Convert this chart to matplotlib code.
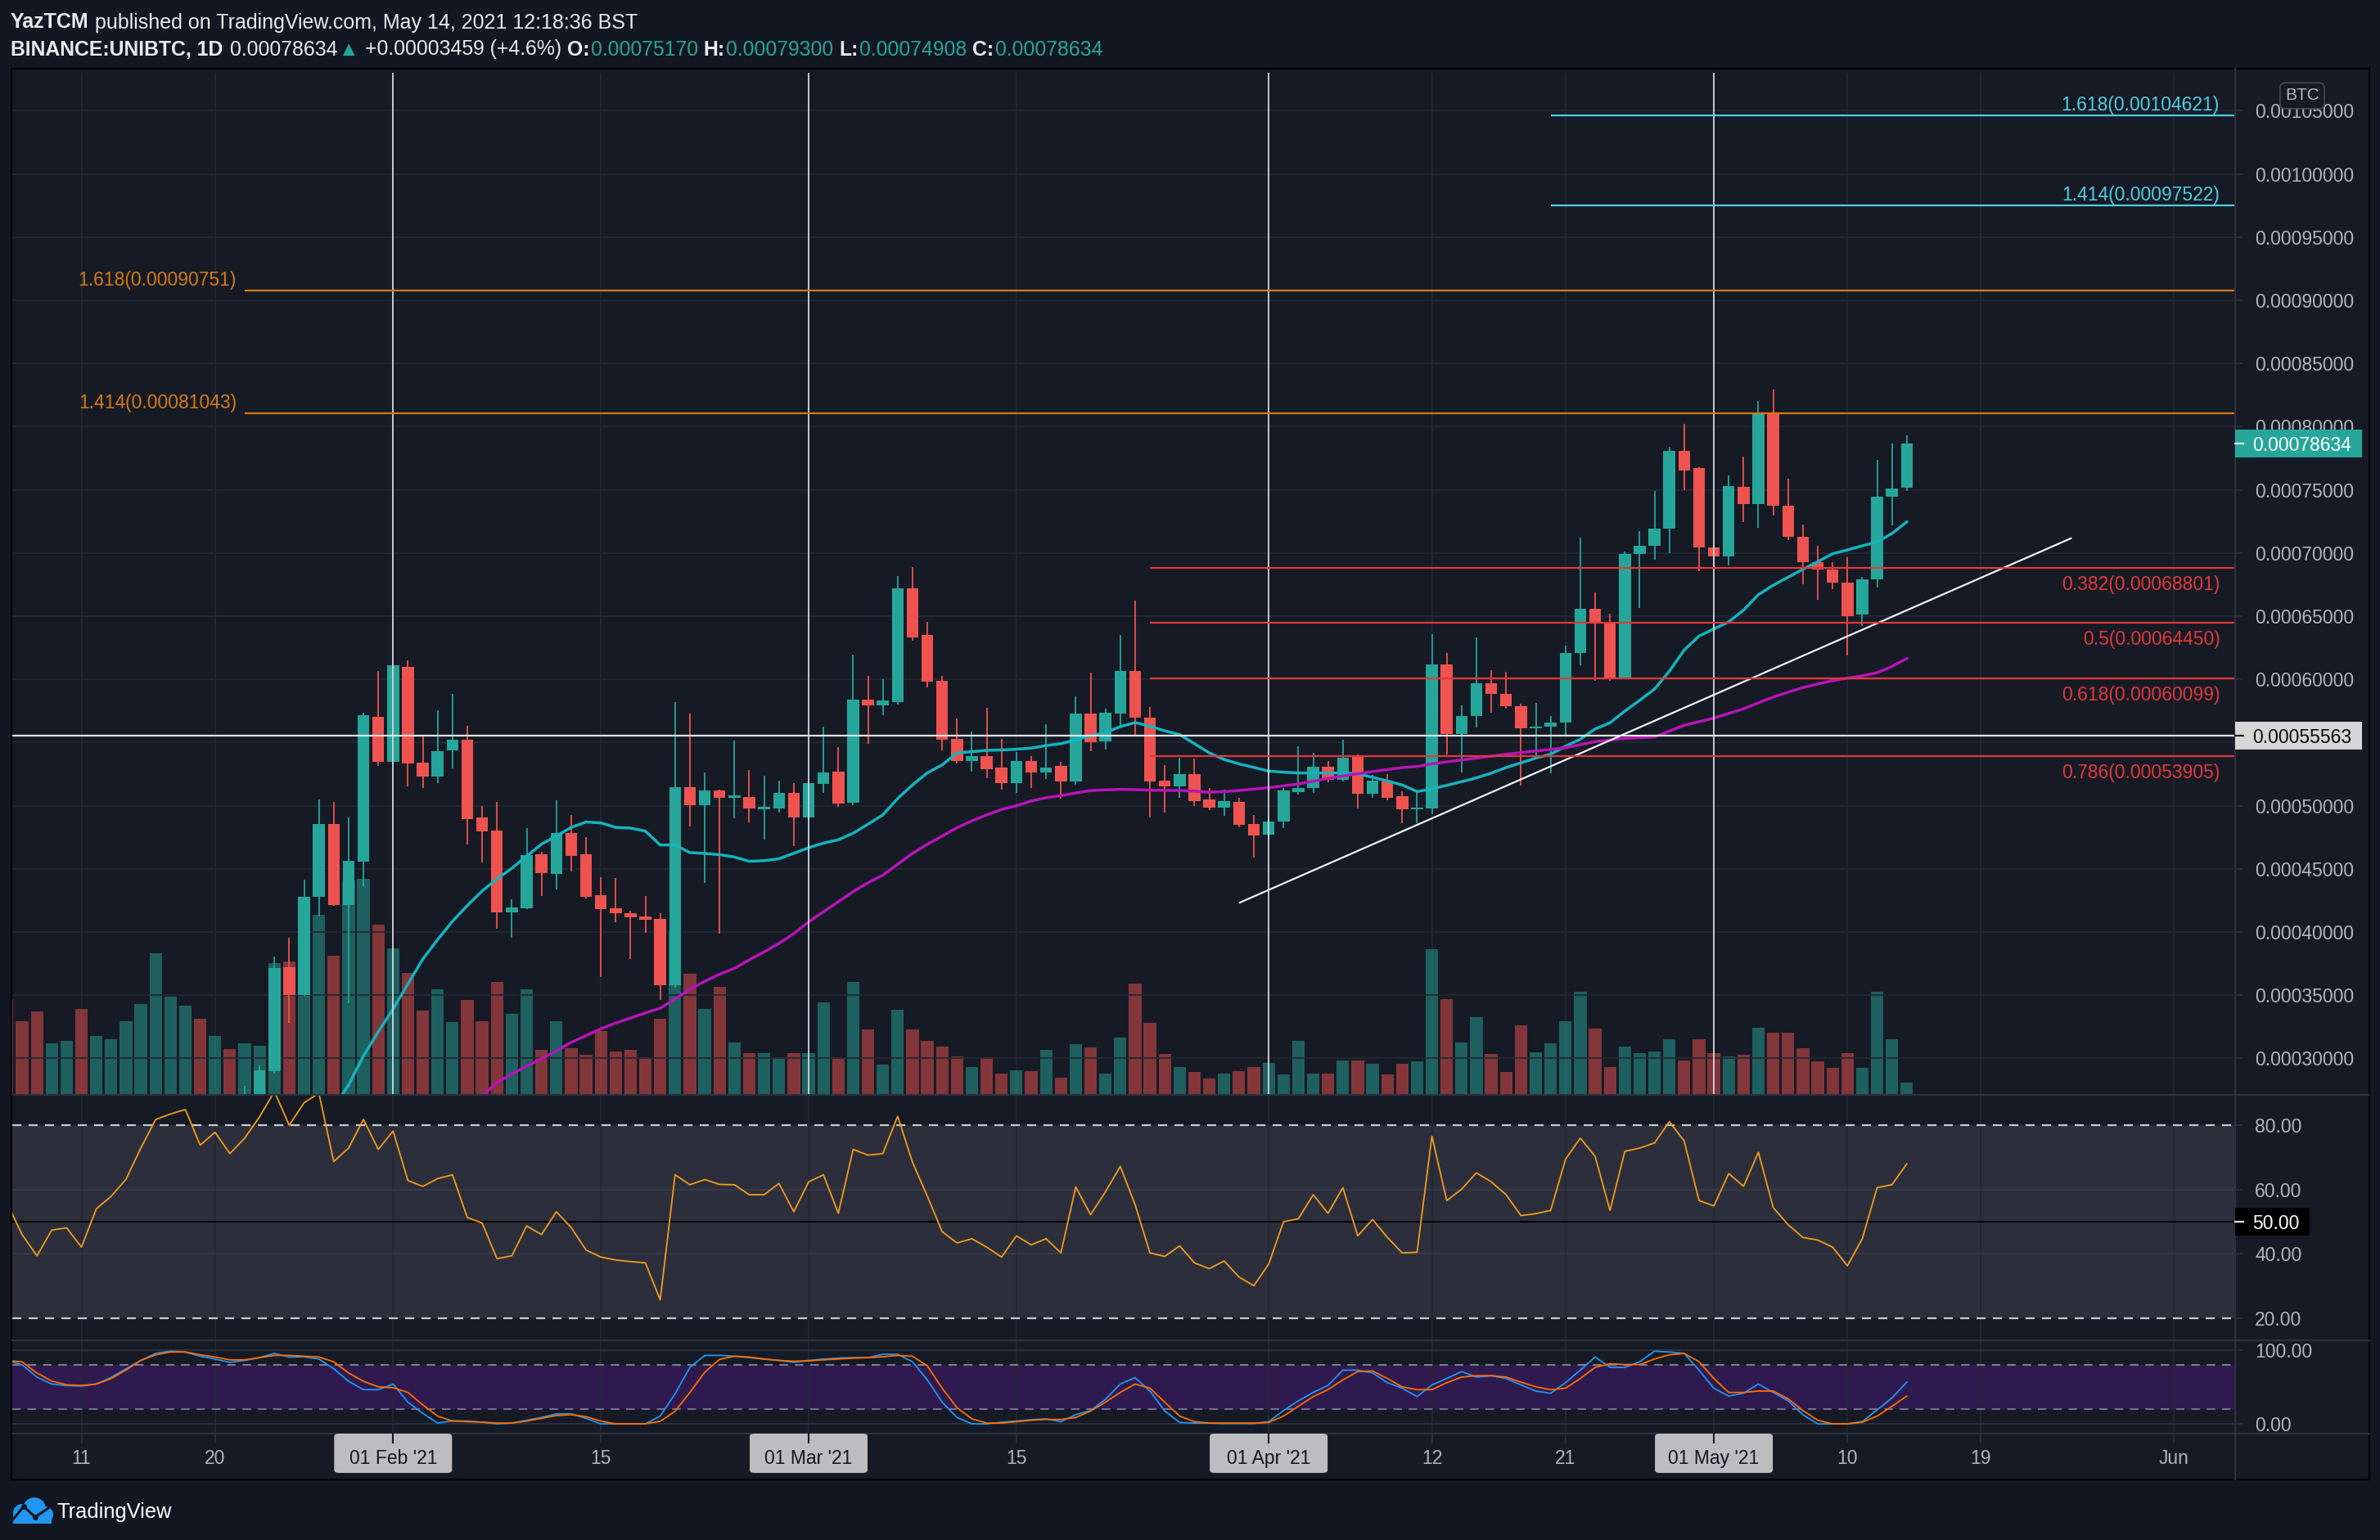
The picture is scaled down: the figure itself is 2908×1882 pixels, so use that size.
import matplotlib.pyplot as plt
import matplotlib as mpl
from matplotlib.patches import Rectangle, FancyBboxPatch, Circle
from matplotlib.lines import Line2D

mpl.rcParams['font.family'] = ['Liberation Sans', 'DejaVu Sans']

# ---- values (UNIBTC, 1D). x = day of year, 0 = 1 Jan 2021 ----
vol_start = 5
volume = [116.5, 88.8, 100.6, 62.5, 64.7, 103.6, 70.7, 66.6, 89.5, 109.9,
          171.6, 118.7, 107.6, 91.7, 70.7, 54.7, 62.5, 58.8, 159.8, 161.6,
          233.8, 219.0, 168.7, 260.8, 262.6, 206.8, 177.6, 147.6, 101.7, 127.6,
          87.7, 114.7, 89.5, 136.9, 97.7, 127.6, 53.6, 88.8, 56.2, 47.7,
          76.6, 51.8, 53.6, 44.8, 91.7, 200.0, 147.0, 104.5, 130.7, 63.5,
          49.6, 49.6, 44.6, 49.6, 50.4, 111.6, 45.5, 137.5, 78.6, 35.7,
          102.7, 78.6, 64.7, 57.6, 46.4, 32.6, 44.6, 25.4, 29.5, 27.7,
          53.6, 20.5, 60.7, 56.7, 25.4, 68.7, 134.8, 87.5, 48.7, 32.6,
          26.8, 18.7, 24.6, 27.7, 33.5, 38.4, 23.7, 64.7, 24.6, 25.4,
          40.6, 40.6, 37.5, 23.7, 37.5, 40.0, 176.8, 116.0, 62.6, 93.6,
          48.8, 27.0, 83.8, 51.1, 62.0, 89.0, 124.6, 79.8, 32.7, 58.5,
          49.9, 51.7, 67.2, 40.8, 67.2, 49.9, 45.9, 47.6, 80.9, 74.6,
          74.6, 56.3, 39.6, 31.6, 49.9, 31.6, 124.6, 67.2, 14.4]
# direction of the volume bars whose candles sit below the visible range (days 5..20)
early_vol_up = [False, False, False, True, True, False, True, True,
                True, True, True, True, True, False, True, False]

candle_start = 21
opens = [0.000255, 0.000266, 0.0002900, 0.0003719, 0.0003499, 0.0004277, 0.0004852, 0.0004217, 0.0004560, 0.0005702,
         0.0005350, 0.0006097, 0.0005341, 0.0005233, 0.0005439, 0.0005523, 0.0004907, 0.0004804, 0.0004157, 0.0004191,
         0.0004615, 0.0004462, 0.0004785, 0.0004615, 0.0004291, 0.0004188, 0.0004150, 0.0004124, 0.0004105, 0.0003582,
         0.0005147, 0.0005005, 0.0005120, 0.0005065, 0.0005068, 0.0004970, 0.0004979, 0.0005100, 0.0004906, 0.0005172,
         0.0005270, 0.0005025, 0.0005840, 0.0005791, 0.0005820, 0.0006719, 0.0006352, 0.0005988, 0.0005528, 0.0005352,
         0.0005392, 0.0005302, 0.0005178, 0.0005354, 0.0005265, 0.0005314, 0.0005193, 0.0005730, 0.0005511, 0.0005730,
         0.0006066, 0.0005699, 0.0005198, 0.0005152, 0.0005250, 0.0005051, 0.0004985, 0.0005031, 0.0004855, 0.0004771,
         0.0004875, 0.0005109, 0.0005140, 0.0005308, 0.0005204, 0.0005386, 0.0005094, 0.0005193, 0.0005074, 0.0004970,
         0.0004976, 0.0006120, 0.0005570, 0.0005711, 0.0005968, 0.0005886, 0.0005786, 0.0005610, 0.0005626, 0.0005656,
         0.0006206, 0.0006559, 0.0006444, 0.0006016, 0.0006994, 0.0007057, 0.0007195, 0.0007808, 0.0007670, 0.0007042,
         0.0006975, 0.0007522, 0.0007388, 0.0008101, 0.0007377, 0.0007131, 0.0006927, 0.0006871, 0.0006763, 0.0006511,
         0.0006789, 0.0007444, 0.00075170]
highs = [0.000278, 0.0002943, 0.0003805, 0.0003954, 0.0004414, 0.0005048, 0.0005029, 0.0004907, 0.0005738, 0.0006066,
         0.0006120, 0.0006150, 0.0005551, 0.0005755, 0.0005884, 0.0005635, 0.0004996, 0.0005029, 0.0004260, 0.0004821,
         0.0004636, 0.0005041, 0.0004924, 0.0004749, 0.0004433, 0.0004425, 0.0004169, 0.0004284, 0.0004152, 0.0005820,
         0.0005729, 0.0005264, 0.0005127, 0.0005516, 0.0005282, 0.0005236, 0.0005201, 0.0005178, 0.0005200, 0.0005626,
         0.0005464, 0.0006196, 0.0006028, 0.0006002, 0.0006817, 0.0006889, 0.0006456, 0.0006028, 0.0005690, 0.0005586,
         0.0005774, 0.0005528, 0.0005424, 0.0005392, 0.0005644, 0.0005346, 0.0005866, 0.0006054, 0.0005765, 0.0006352,
         0.0006624, 0.0005779, 0.0005323, 0.0005380, 0.0005375, 0.0005138, 0.0005126, 0.0005063, 0.0004927, 0.0004900,
         0.0005143, 0.0005470, 0.0005418, 0.0005354, 0.0005525, 0.0005407, 0.0005242, 0.0005253, 0.0005115, 0.0005115,
         0.0006355, 0.0006206, 0.0005793, 0.0006332, 0.0006072, 0.0006061, 0.0005808, 0.0005812, 0.0005712, 0.0006269,
         0.0007124, 0.0006689, 0.0006518, 0.0007012, 0.0007172, 0.0007488, 0.0007841, 0.0008023, 0.0007680, 0.0007050,
         0.0007615, 0.0007763, 0.0008202, 0.0008295, 0.0007589, 0.0007224, 0.0007057, 0.0006927, 0.0006964, 0.0006808,
         0.0007737, 0.0007867, 0.00079300]
lows = [0.000250, 0.000262, 0.0002883, 0.0003283, 0.0003487, 0.0004126, 0.0004205, 0.0003439, 0.0004366, 0.0005312,
        0.0005330, 0.0005156, 0.0005142, 0.0005180, 0.0005295, 0.0004696, 0.0004548, 0.0004026, 0.0003958, 0.0004180,
        0.0004284, 0.0004339, 0.0004481, 0.0004265, 0.0003642, 0.0004078, 0.0003786, 0.0003997, 0.0003463, 0.0003558,
        0.0004833, 0.0004390, 0.0003990, 0.0004898, 0.0004869, 0.0004730, 0.0004947, 0.0004681, 0.0004880, 0.0005100,
        0.0004993, 0.0005005, 0.0005490, 0.0005716, 0.0005803, 0.0006308, 0.0005938, 0.0005438, 0.0005337, 0.0005270,
        0.0005216, 0.0005129, 0.0005103, 0.0005143, 0.0005213, 0.0005057, 0.0005164, 0.0005433, 0.0005444, 0.0005626,
        0.0005563, 0.0004909, 0.0004947, 0.0005065, 0.0004999, 0.0004964, 0.0004921, 0.0004826, 0.0004591, 0.0004740,
        0.0004820, 0.0005091, 0.0005100, 0.0005184, 0.0005193, 0.0004976, 0.0005063, 0.0005042, 0.0004863, 0.0004860,
        0.0004931, 0.0005407, 0.0005265, 0.0005619, 0.0005738, 0.0005767, 0.0005161, 0.0005396, 0.0005258, 0.0005563,
        0.0006113, 0.0005990, 0.0005990, 0.0006000, 0.0006566, 0.0006949, 0.0007001, 0.0007496, 0.0006853, 0.0006870,
        0.0006901, 0.0007243, 0.0007198, 0.0007299, 0.0007105, 0.0006752, 0.0006630, 0.0006715, 0.0006187, 0.0006425,
        0.0006726, 0.0007217, 0.00074908]
closes = [0.000266, 0.0002907, 0.0003714, 0.0003499, 0.0004277, 0.0004852, 0.0004217, 0.0004564, 0.0005714, 0.0005350,
          0.0006109, 0.0005336, 0.0005233, 0.0005432, 0.0005523, 0.0004897, 0.0004799, 0.0004157, 0.0004196, 0.0004610,
          0.0004469, 0.0004785, 0.0004605, 0.0004277, 0.0004184, 0.0004152, 0.0004119, 0.0004100, 0.0003582, 0.0005147,
          0.0005005, 0.0005120, 0.0005065, 0.0005077, 0.0004979, 0.0004988, 0.0005100, 0.0004906, 0.0005178, 0.0005262,
          0.0005016, 0.0005840, 0.0005791, 0.0005834, 0.0006719, 0.0006332, 0.0005979, 0.0005519, 0.0005354, 0.0005392,
          0.0005291, 0.0005178, 0.0005354, 0.0005265, 0.0005302, 0.0005193, 0.0005730, 0.0005505, 0.0005736, 0.0006066,
          0.0005699, 0.0005193, 0.0005152, 0.0005250, 0.0005037, 0.0004985, 0.0005034, 0.0004849, 0.0004762, 0.0004875,
          0.0005120, 0.0005140, 0.0005308, 0.0005204, 0.0005381, 0.0005094, 0.0005196, 0.0005065, 0.0004973, 0.0004975,
          0.0006120, 0.0005570, 0.0005711, 0.0005968, 0.0005882, 0.0005786, 0.0005611, 0.0005626, 0.0005656, 0.0006206,
          0.0006559, 0.0006444, 0.0006016, 0.0006994, 0.0007057, 0.0007195, 0.0007808, 0.0007655, 0.0007042, 0.0006975,
          0.0007530, 0.0007388, 0.0008101, 0.0007373, 0.0007131, 0.0006927, 0.0006871, 0.0006763, 0.0006503, 0.0006789,
          0.0007444, 0.0007511, 0.00078634]

ema_start = 27
ema20 = [0.000261, 0.000279, 0.000302, 0.000321, 0.0003391, 0.000359, 0.0003786, 0.000394, 0.0004085, 0.000421,
         0.0004325, 0.000442, 0.0004505, 0.000460, 0.0004696, 0.000476, 0.0004828, 0.0004871, 0.0004864, 0.0004828,
         0.0004823, 0.0004799, 0.0004689, 0.0004689, 0.0004629, 0.0004622, 0.0004612, 0.0004594, 0.000456, 0.0004565,
         0.000458, 0.0004623, 0.0004667, 0.0004704, 0.000473, 0.0004782, 0.0004854, 0.0004927, 0.0005057, 0.0005164,
         0.000526, 0.0005323, 0.0005418, 0.0005427, 0.0005438, 0.0005441, 0.0005447, 0.0005456, 0.0005476, 0.0005491,
         0.000552, 0.0005554, 0.0005577, 0.0005626, 0.0005658, 0.0005629, 0.0005592, 0.0005563, 0.0005491, 0.0005418,
         0.0005366, 0.0005331, 0.0005303, 0.0005274, 0.0005265, 0.0005259, 0.0005259, 0.0005259, 0.0005259, 0.0005253,
         0.0005224, 0.0005196, 0.0005164, 0.0005112, 0.0005133, 0.0005161, 0.000519, 0.000522, 0.0005258, 0.0005302,
         0.0005339, 0.0005377, 0.0005407, 0.000547, 0.0005526, 0.0005607, 0.0005656, 0.0005749, 0.0005834, 0.0005923,
         0.0006064, 0.0006232, 0.0006343, 0.0006399, 0.0006455, 0.0006548, 0.000667, 0.0006745, 0.0006808, 0.0006871,
         0.0006931, 0.0006994, 0.0007024, 0.0007057, 0.0007087, 0.0007154, 0.0007247]
ma_start = 37
ma50 = [0.000270, 0.000281, 0.0002876, 0.000294, 0.0002996, 0.000306, 0.0003127, 0.000318, 0.0003235, 0.000328,
        0.0003319, 0.000336, 0.0003398, 0.000347, 0.0003549, 0.000361, 0.0003666, 0.0003713, 0.000378, 0.0003843,
        0.000391, 0.0003987, 0.000408, 0.0004161, 0.000424, 0.000432, 0.000439, 0.000445, 0.0004537, 0.0004623,
        0.0004695, 0.000476, 0.0004826, 0.000488, 0.0004927, 0.000497, 0.0005, 0.0005037, 0.0005063, 0.000508,
        0.00051, 0.000512, 0.0005125, 0.0005129, 0.0005127, 0.0005123, 0.0005121, 0.000512, 0.0005115, 0.0005106,
        0.0005112, 0.000512, 0.0005131, 0.0005143, 0.0005157, 0.0005172, 0.0005194, 0.0005216, 0.0005235, 0.0005253,
        0.000527, 0.0005286, 0.0005302, 0.000531, 0.0005331, 0.0005347, 0.0005362, 0.0005377, 0.0005392, 0.0005407,
        0.000542, 0.0005433, 0.0005446, 0.0005459, 0.0005483, 0.0005507, 0.000552, 0.0005533, 0.0005539, 0.0005544,
        0.000559, 0.0005637, 0.0005665, 0.0005693, 0.000573, 0.0005767, 0.0005814, 0.000586, 0.0005898, 0.0005935,
        0.0005963, 0.000599, 0.0006009, 0.0006028, 0.0006053, 0.0006102, 0.0006165]

osc_start = 5
rsi = [55.7, 46.0, 39.4, 47.4, 48.1, 42.1, 54.0, 57.9, 63.2, 72.9,
       81.8, 83.5, 84.9, 73.8, 77.8, 71.2, 76.0, 82.6, 90.5, 80.0,
       87.0, 90.0, 68.7, 72.9, 81.8, 72.5, 78.2, 62.8, 61.0, 63.4,
       64.6, 51.3, 49.6, 38.5, 39.4, 48.7, 46.0, 53.1, 48.2, 41.2,
       39.0, 38.1, 37.6, 37.2, 25.7, 64.6, 61.5, 63.1, 61.6, 61.5,
       58.4, 58.4, 61.9, 53.1, 62.4, 64.6, 52.6, 72.5, 70.7, 71.2,
       82.8, 68.5, 57.9, 46.9, 43.4, 44.7, 42.1, 39.0, 45.6, 42.8,
       44.7, 40.3, 60.8, 52.2, 59.3, 67.2, 55.3, 40.3, 39.2, 42.5,
       37.2, 35.4, 37.8, 32.8, 30.1, 36.8, 50.0, 50.9, 58.4, 52.6,
       60.6, 45.6, 50.7, 45.1, 40.3, 40.5, 76.6, 56.6, 60.1, 65.2,
       62.4, 58.4, 51.9, 52.5, 53.5, 69.4, 76.0, 70.3, 53.5, 71.9,
       72.9, 74.5, 81.1, 75.1, 56.6, 54.9, 65.0, 61.0, 71.6, 54.4,
       49.1, 45.1, 44.3, 42.1, 36.3, 44.7, 60.6, 61.5, 68.0]
stoch_k = [86.0, 80.0, 63.4, 54.0, 52.0, 51.3, 54.0, 63.0, 74.7, 86.0,
           95.5, 98.5, 97.4, 91.7, 87.9, 83.4, 86.0, 89.8, 95.5, 90.6,
           90.9, 87.9, 74.7, 57.7, 46.4, 46.4, 54.0, 29.4, 14.3, 1.1,
           4.2, 3.8, 2.3, 0.0, 1.1, 4.9, 8.7, 13.6, 13.6, 7.5,
           0.0, 0.0, 0.0, 0.0, 10.6, 40.8, 76.6, 92.8, 92.8, 91.7,
           89.8, 87.9, 86.0, 83.4, 86.0, 87.9, 89.1, 89.8, 89.8, 94.3,
           94.3, 84.2, 59.6, 29.4, 8.7, 0.0, 0.0, 2.3, 3.8, 5.7,
           6.8, 3.0, 12.5, 18.1, 33.2, 54.0, 62.6, 44.5, 17.4, 1.9,
           1.1, 1.1, 0.4, 0.4, 0.4, 3.0, 18.1, 31.3, 42.6, 52.1,
           72.8, 72.8, 69.1, 55.8, 48.3, 37.0, 52.8, 61.5, 70.9, 63.4,
           65.3, 61.5, 52.8, 44.5, 41.5, 55.8, 72.8, 90.6, 76.6, 76.6,
           84.2, 98.5, 97.4, 95.5, 72.8, 48.3, 37.7, 41.5, 54.0, 42.6,
           31.3, 12.5, 0.0, 0.0, 0.0, 3.0, 18.9, 35.1, 56.6]
stoch_d = [86.0, 84.0, 69.0, 58.0, 53.0, 52.0, 54.0, 61.5, 73.0, 86.0,
           93.6, 97.4, 97.4, 93.6, 90.6, 86.8, 86.8, 89.8, 92.8, 92.8,
           91.7, 90.6, 84.2, 69.0, 57.7, 50.2, 49.0, 42.6, 25.7, 10.6,
           3.8, 3.0, 2.3, 1.1, 1.1, 3.8, 7.5, 11.3, 12.5, 9.8,
           3.8, 0.0, 0.0, 0.0, 3.6, 17.0, 42.7, 70.0, 87.4, 91.7,
           90.6, 87.9, 86.0, 84.9, 85.3, 86.8, 87.9, 89.1, 89.8, 90.9,
           92.8, 91.7, 78.5, 48.3, 21.9, 6.8, 1.1, 1.1, 3.0, 4.9,
           6.0, 6.0, 8.7, 17.4, 29.4, 42.6, 54.0, 48.3, 29.4, 10.6,
           3.0, 1.1, 1.1, 1.1, 1.1, 2.0, 10.6, 23.8, 37.0, 46.4,
           59.6, 70.9, 71.7, 61.5, 50.2, 46.4, 46.4, 55.8, 63.4, 65.3,
           65.3, 63.4, 56.6, 50.2, 46.4, 48.3, 61.5, 76.6, 81.5, 80.4,
           80.4, 87.9, 93.6, 95.5, 84.2, 61.5, 42.6, 42.6, 44.5, 44.5,
           34.0, 18.1, 4.9, 0.0, 0.0, 2.3, 10.6, 23.8, 37.7]

fib_orange = [1.618, 1.414]
fib_orange_price = [0.00090751, 0.00081043]
fib_orange_from = 21
fib_cyan = [1.618, 1.414]
fib_cyan_price = [0.00104621, 0.00097522]
fib_cyan_from = 109
fib_red = [0.382, 0.5, 0.618, 0.786]
fib_red_price = [0.00068801, 0.00064450, 0.00060099, 0.00053905]
fib_red_from = 82
hline_price = 0.00055563
trend_x = [88.05, 144.06]
trend_y = [0.0004233, 0.0007116]
month_lines = [31, 59, 90, 120]
tick_days = [10, 19, 31, 45, 59, 73, 90, 101, 110, 120, 129, 138, 151]
tick_labels = ['11', '20', "01 Feb '21", '15', "01 Mar '21", '15', "01 Apr '21",
               '12', '21', "01 May '21", '10', '19', 'Jun']
price_ticks = [0.0003 + 0.00005 * i for i in range(16)]
last_price = 0.00078634

assert len(volume) == 129 and len(rsi) == 129 and len(stoch_k) == 129 and len(stoch_d) == 129
assert len(opens) == len(highs) == len(lows) == len(closes) == 113
assert len(ema20) == 107 and len(ma50) == 97

# ---- layout ----
W, H, DPI = 2908, 1882, 100
BG = '#131722'
PANE = '#161a25'
GRID = '#242833'
SEP = '#2e323d'
TXT = '#b2b5be'
UP = '#26a69a'
DOWN = '#ef5350'
ORANGE = '#d67a12'
CYAN = '#4fcfe0'
RED = '#e2383a'
X0, X1 = 5.338, 155.07
FS = 16.5


def fx(x):
    return x / W


def fy(y):
    return 1 - y / H


fig = plt.figure(figsize=(W / DPI, H / DPI), dpi=DPI, facecolor=BG)
fig.add_artist(Rectangle((fx(14), fy(1808)), fx(2895) - fx(14), fy(84) - fy(1808),
                         transform=fig.transFigure, facecolor=PANE, edgecolor='#000000',
                         lw=1.5, zorder=-5))


def pane(top, bot, **kw):
    a = fig.add_axes([fx(15), fy(bot), fx(2730) - fx(15), fy(top) - fy(bot)], **kw)
    a.set_facecolor('none')
    for s in a.spines.values():
        s.set_visible(False)
    a.tick_params(axis='x', bottom=False, labelbottom=False)
    a.tick_params(axis='y', direction='out', length=7, width=1.2, color=SEP, pad=11,
                  labelsize=FS, labelcolor=TXT)
    return a


ax_vol = pane(89, 1337)
ax = pane(89, 1337, sharex=ax_vol)
ax_rsi = pane(1339, 1637, sharex=ax_vol)
ax_st = pane(1639, 1752, sharex=ax_vol)
ax_vol.set_xlim(X0, X1)

for a in (ax_vol, ax_rsi, ax_st):
    for d in tick_days:
        a.axvline(d, color=GRID, lw=1.3, zorder=0.5)

# volume
vol_days = list(range(vol_start, vol_start + len(volume)))
vol_up = early_vol_up + [c >= o for o, c in zip(opens, closes)]
ax_vol.bar(vol_days, volume, width=0.84, color=[UP if u else DOWN for u in vol_up],
           alpha=0.5, lw=0, zorder=1)
ax_vol.set_ylim(0, 1248)
ax_vol.set_yticks([])

# price axis; the 0.00055 label sits under the horizontal-line tag, so it is left blank
ax.set_ylim(0.0002718, 0.00108)
ax.yaxis.tick_right()
ax.set_yticks(price_ticks)
ax.set_yticklabels(['' if abs(v - 0.00055) < 1e-9 else f'{v:.8f}' for v in price_ticks])
for v in price_ticks:
    ax.axhline(v, color=GRID, lw=1.3, zorder=0.5)

cdays = list(range(candle_start, candle_start + len(opens)))
ccol = [UP if c >= o else DOWN for o, c in zip(opens, closes)]
ax.vlines(cdays, lows, highs, colors=ccol, lw=1.3, zorder=3)
ax.bar(cdays, [max(abs(c - o), 1.4e-6) for o, c in zip(opens, closes)],
       bottom=[min(o, c) for o, c in zip(opens, closes)],
       width=0.8, color=ccol, lw=0, zorder=3)

ax.plot(range(ema_start, ema_start + len(ema20)), ema20, color='#14b3bd', lw=2.5, zorder=4)
ax.plot(range(ma_start, ma_start + len(ma50)), ma50, color='#b714b7', lw=2.5, zorder=4)

# drawings
for d in month_lines:
    ax.axvline(d, color='#d4d6dc', lw=1.3, zorder=6)
ax.axhline(hline_price, color='#e4e4e4', lw=1.6, zorder=6)
ax.plot(trend_x, trend_y, color='#f2f2f2', lw=1.6, zorder=6)

for lvl, p in zip(fib_orange, fib_orange_price):
    ax.hlines(p, fib_orange_from, X1, color=ORANGE, lw=1.6, zorder=6)
    ax.annotate(f'{lvl:g}({p:.8f})', xy=(fib_orange_from, p), xytext=(-10, 1),
                textcoords='offset pixels', ha='right', va='bottom', color=ORANGE,
                fontsize=FS, zorder=7)
for lvl, p in zip(fib_cyan, fib_cyan_price):
    ax.hlines(p, fib_cyan_from, X1, color=CYAN, lw=1.6, zorder=6)
    ax.annotate(f'{lvl:g}({p:.8f})', xy=(1, p), xycoords=('axes fraction', 'data'),
                xytext=(-18, 1), textcoords='offset pixels', ha='right', va='bottom',
                color=CYAN, fontsize=FS, zorder=7)
for lvl, p in zip(fib_red, fib_red_price):
    ax.hlines(p, fib_red_from, X1, color=RED, lw=1.6, zorder=6)
    ax.annotate(f'{lvl:g}({p:.8f})', xy=(1, p), xycoords=('axes fraction', 'data'),
                xytext=(-17, -9), textcoords='offset pixels', ha='right', va='top',
                color=RED, fontsize=FS, zorder=7)

# RSI
osc_days = list(range(osc_start, osc_start + len(rsi)))
ax_rsi.set_ylim(13.36, 89.2)
ax_rsi.axhspan(20, 80, color='#2c2f3b', lw=0, zorder=0)
for v in (40, 60):
    ax_rsi.axhline(v, color='#3a3e4a', lw=1.2, zorder=0.6)
for v in (20, 80):
    ax_rsi.axhline(v, color='#c9c9c9', lw=1.6, ls=(0, (5, 4)), zorder=1)
ax_rsi.axhline(50, color='#050505', lw=1.6, zorder=1)
ax_rsi.plot(osc_days, rsi, color='#f29b1d', lw=1.3, zorder=3)
ax_rsi.yaxis.tick_right()
ax_rsi.set_yticks([20, 40, 60, 80])
ax_rsi.set_yticklabels(['20.00', '40.00', '60.00', '80.00'])

# Stoch RSI
ax_st.set_ylim(-13.2, 112.1)
ax_st.axhspan(20, 80, color='#2f1a4f', lw=0, zorder=0)
for v in (0, 100):
    ax_st.axhline(v, color='#2f333e', lw=1.3, zorder=0.6)
ax_st.axhline(80, color='#7c7f8a', lw=1.5, ls=(0, (5, 4)), zorder=1)
ax_st.axhline(20, color='#7a6897', lw=1.5, ls=(0, (5, 4)), zorder=1)
ax_st.plot(osc_days, stoch_k, color='#2196f3', lw=1.3, zorder=3)
ax_st.plot(osc_days, stoch_d, color='#ff6d00', lw=1.3, zorder=4)
ax_st.yaxis.tick_right()
ax_st.set_yticks([0, 100])
ax_st.set_yticklabels(['0.00', '100.00'])

# separators
for y in (1338, 1638, 1752):
    fig.add_artist(Line2D([fx(15), fx(2895)], [fy(y), fy(y)], transform=fig.transFigure,
                          color=SEP, lw=1.5, zorder=8))
fig.add_artist(Line2D([fx(2731), fx(2731)], [fy(84), fy(1808)], transform=fig.transFigure,
                      color=SEP, lw=1.5, zorder=8))


def axis_tag(a, val, text, fc, tc, x1=2886, h=34):
    yd = a.transData.transform((X0, val))[1] / H
    fig.add_artist(Rectangle((fx(2731), yd - h / 2 / H), (x1 - 2731) / W, h / H,
                             transform=fig.transFigure, facecolor=fc, edgecolor='none', zorder=10))
    fig.add_artist(Line2D([fx(2731), fx(2741)], [yd, yd], transform=fig.transFigure,
                          color=tc, lw=1.5, zorder=11))
    fig.text(fx(2752), yd, text, color=tc, fontsize=FS, va='center_baseline', ha='left', zorder=11)


axis_tag(ax, last_price, f'{last_price:.8f}', UP, '#ffffff')
axis_tag(ax, hline_price, f'{hline_price:.8f}', '#d6d6d6', '#0a0a0a')
axis_tag(ax_rsi, 50, '50.00', '#000000', '#ffffff', x1=2822)

fig.text(fx(2813), fy(117), 'BTC', ha='center', va='center', fontsize=15, color=TXT, zorder=12,
         bbox=dict(boxstyle='round,pad=0.3', fc=PANE, ec='#434651', lw=1.2))

# time axis
for d, lab in zip(tick_days, tick_labels):
    xd = ax_st.transData.transform((d, 0))[0] / W
    if d in month_lines:
        fig.add_artist(FancyBboxPatch((xd - 72 / W, fy(1800)), 144 / W, 48 / H,
                                      boxstyle='round,pad=0,rounding_size=0.002',
                                      transform=fig.transFigure, fc='#bdbdbf', ec='none', zorder=9))
        fig.add_artist(Line2D([xd, xd], [fy(1752), fy(1763)], transform=fig.transFigure,
                              color='#131722', lw=1.5, zorder=10))
        fig.text(xd, fy(1780), lab, color='#131722', ha='center', va='center_baseline',
                 fontsize=FS, zorder=10)
    else:
        fig.add_artist(Line2D([xd, xd], [fy(1752), fy(1763)], transform=fig.transFigure,
                              color=SEP, lw=1.3, zorder=9))
        fig.text(xd, fy(1780), lab, color=TXT, ha='center', va='center_baseline', fontsize=FS)

# header
renderer = fig.canvas.get_renderer()


def text_run(x, y, pieces, size=18):
    sp = 0.28 * size * DPI / 72
    for s, col, wt, gap in pieces:
        t = fig.text(fx(x), fy(y), s, color=col, fontsize=size, fontweight=wt,
                     va='center_baseline', ha='left')
        x += t.get_window_extent(renderer).width + gap * sp


WHITE = '#e9eaec'
text_run(13, 25, [('YazTCM', WHITE, 'bold', 1),
                  ('published on TradingView.com, May 14, 2021 12:18:36 BST', WHITE, 'normal', 0)])
text_run(13, 58, [('BINANCE:UNIBTC, 1D', WHITE, 'bold', 1.2),
                  ('0.00078634', WHITE, 'normal', 0.3),
                  ('\u25B2', UP, 'normal', 1.0),
                  ('+0.00003459 (+4.6%)', WHITE, 'normal', 1.0),
                  ('O:', WHITE, 'bold', 0.2), ('0.00075170', UP, 'normal', 1.0),
                  ('H:', WHITE, 'bold', 0.2), ('0.00079300', UP, 'normal', 1.0),
                  ('L:', WHITE, 'bold', 0.2), ('0.00074908', UP, 'normal', 1.0),
                  ('C:', WHITE, 'bold', 0.2), ('0.00078634', UP, 'normal', 0)], size=17.8)

# TradingView logo
lg = fig.add_axes([fx(12), fy(1863), fx(66) - fx(12), fy(1829) - fy(1863)])
lg.set_xlim(0, 54)
lg.set_ylim(0, 34)
lg.axis('off')
for cx, cy, r in ((15, 14, 11), (30, 19, 14), (43, 12, 10)):
    lg.add_patch(Circle((cx, cy), r, color='#2196f3', lw=0))
lg.add_patch(Rectangle((4, 1), 47, 12, color='#2196f3', lw=0))
lg.plot([3, 17, 31, 50], [5, 22, 9, 22], color=BG, lw=2.2)
lg.plot([17, 31], [22, 9], 'o', color=BG, ms=4)
fig.text(fx(69), fy(1846), 'TradingView', color='#ffffff', fontsize=18.3, va='center_baseline')

fig.savefig('out.png', dpi=DPI, facecolor=BG)
